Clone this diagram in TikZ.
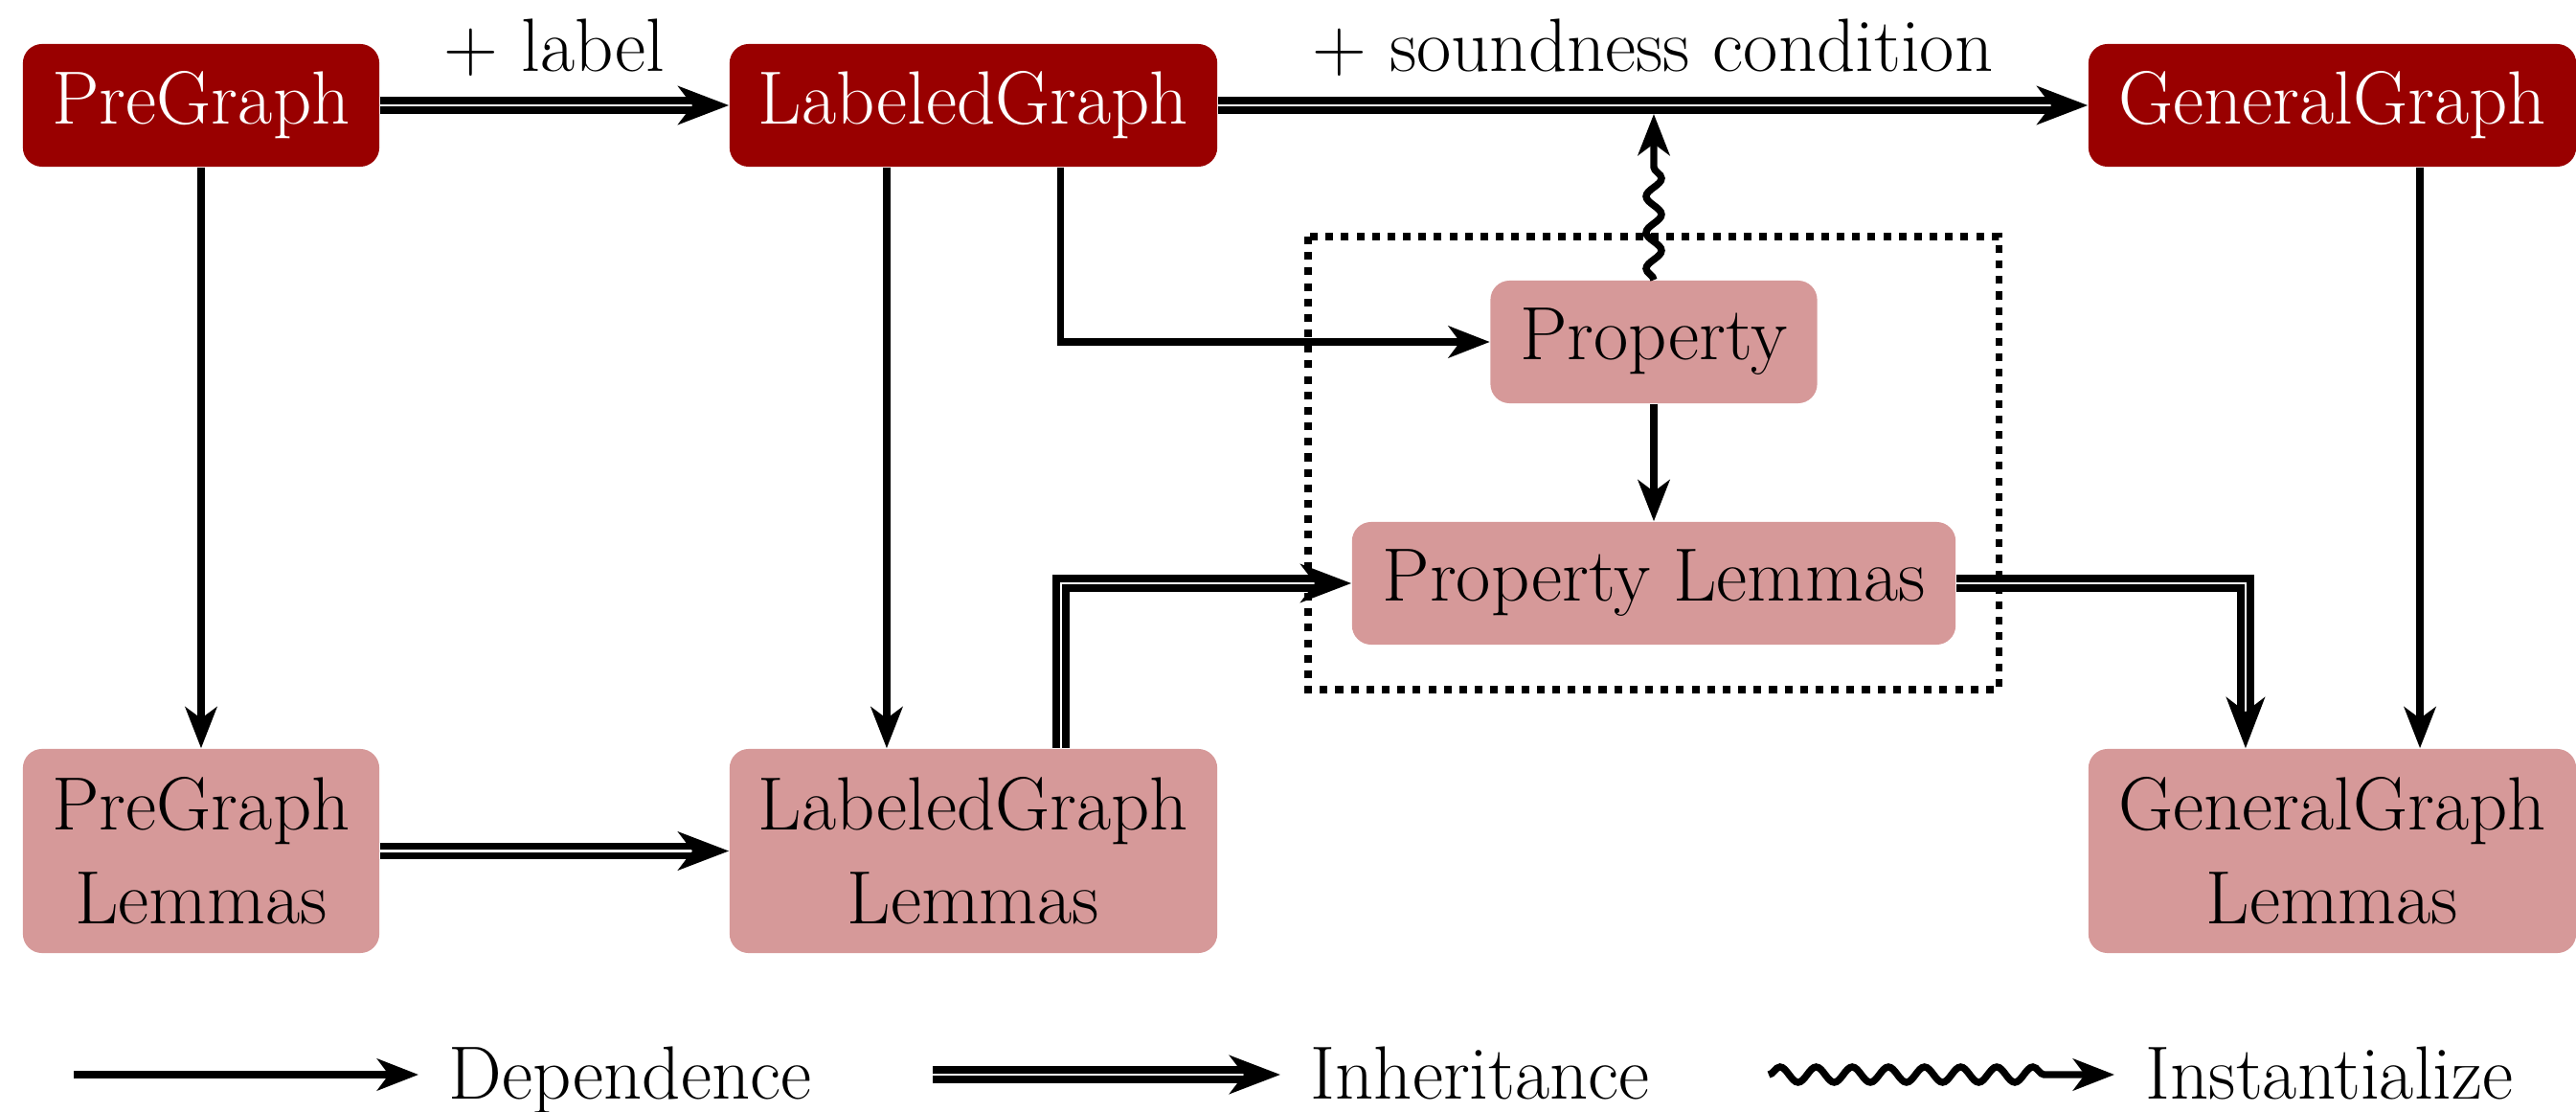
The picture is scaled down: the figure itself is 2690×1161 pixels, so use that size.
\documentclass[tikz,border=0pt]{standalone}
\usetikzlibrary{arrows.meta,decorations.pathmorphing}
\definecolor{darkbox}{RGB}{153,0,0}
\colorlet{lightbox}{darkbox!40}
\tikzset{
  box/.style={rounded corners=0.2cm, inner sep=0pt, align=center, font=\fontsize{22.4}{28}\selectfont},
  darknode/.style={box, fill=darkbox, text=white, minimum height=1.28cm},
  lightnode/.style={box, fill=lightbox, text=black},
  txt/.style={font=\fontsize{22.4}{28}\selectfont, inner sep=0pt},
  deptip/.tip={Stealth[length=0.43cm,width=0.33cm,inset=0.12cm]},
  inhtip/.tip={Stealth[length=0.53cm,width=0.40cm,inset=0.15cm]},
  dep/.style={line width=2.1pt, -deptip},
  inh/.style={double, double distance=0.6pt, line width=2.25pt, -inhtip},
  wavy/.style={line width=2.1pt, -deptip, decorate,
    decoration={snake, amplitude=0.08cm, segment length=0.377cm, post length=0.5cm}},
  dotbox/.style={line width=2pt, dash pattern=on 2.3pt off 2.3pt},
}
\begin{document}
\begin{tikzpicture}[x=0.01cm,y=-0.01cm]
\useasboundingbox (0,0) rectangle (2690,1161);

% nodes
\node[darknode, minimum width=3.72cm] (pg) at (210,110) {PreGraph};
\node[darknode, minimum width=5.09cm] (lg) at (1016.5,110) {LabeledGraph};
\node[darknode, minimum width=5.09cm] (gg) at (2435.5,110) {GeneralGraph};
\node[lightnode, minimum width=3.41cm, minimum height=1.28cm] (prop) at (1727,357) {Property};
\node[lightnode, minimum width=6.30cm, minimum height=1.28cm] (pl) at (1727,609) {Property Lemmas};
\node[lightnode, minimum width=3.72cm, minimum height=2.13cm] (pgl) at (210,888.5) {PreGraph\\Lemmas};
\node[lightnode, minimum width=5.09cm, minimum height=2.13cm] (lgl) at (1016.5,888.5) {LabeledGraph\\Lemmas};
\node[lightnode, minimum width=5.09cm, minimum height=2.13cm] (ggl) at (2435.5,888.5) {GeneralGraph\\Lemmas};

% dotted frame
\draw[dotbox] (1366,247) rectangle (2087,720);

% connectors
\draw[inh] (pg) -- (lg) node[txt, midway, anchor=base, yshift=0.35cm] (lbl1) {+ label};
\draw[inh] (lg) -- (gg) node[txt, midway, anchor=base, yshift=0.35cm] (lbl2) {+ soundness condition};
\coordinate (inst) at (1727,119);
\draw[dep] (pg) -- (pgl);
\draw[dep] ([xshift=-0.905cm]lg.south) -- ([xshift=-0.905cm]lgl.north);
\draw[dep] ([xshift=0.91cm]lg.south) |- (prop.west);
\draw[dep] ([xshift=0.915cm]gg.south) -- ([xshift=0.915cm]ggl.north);
\draw[dep] (prop) -- (pl);
\draw[wavy] (prop.north) -- (inst);
\draw[inh] (pgl) -- (lgl);
\draw[inh] ([xshift=0.91cm]lgl.north) |- (pl.west);
\draw[inh] (pl.east) -| ([xshift=-0.905cm]ggl.north);

% legend
\coordinate (d1) at (77,1122);
\coordinate (d2) at (437,1122);
\node[txt, anchor=base west] (dtxt) at (468,1147) {Dependence};
\draw[dep] (d1) -- (d2);
\coordinate (i1) at (974,1122);
\coordinate (i2) at (1337,1122);
\node[txt, anchor=base west] (itxt) at (1368,1147) {Inheritance};
\draw[inh] (i1) -- (i2);
\coordinate (w1) at (1847,1122);
\coordinate (w2) at (2208,1122);
\node[txt, anchor=base west] (wtxt) at (2240,1147) {Instantialize};
\draw[wavy, decoration={post length=0.6cm}] (w1) -- (w2);
\end{tikzpicture}
\end{document}
